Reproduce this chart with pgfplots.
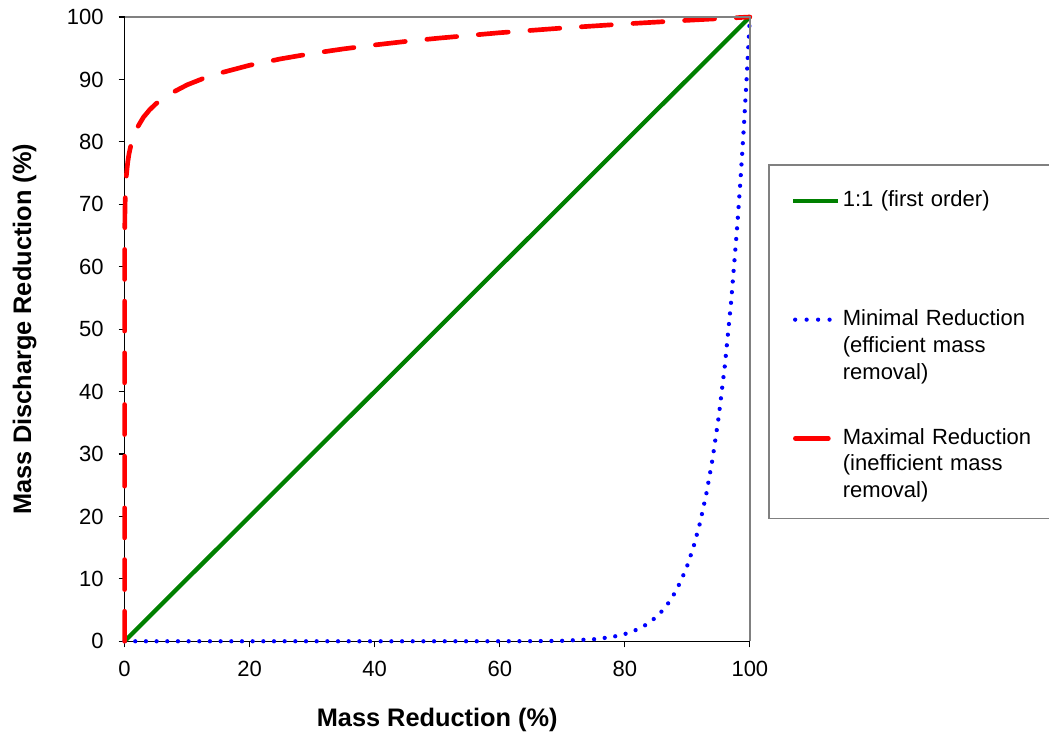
\documentclass[border=0pt]{standalone}
\usepackage{pgfplots}
\pgfplotsset{compat=1.18}
\usepackage{fontspec}
\setmainfont{Liberation Sans}
\definecolor{xlgreen}{RGB}{0,128,0}
\definecolor{framegray}{RGB}{128,128,128}

\pgfplotstableread{
x y
0 0
0.0001 50.12
0.001 56.23
0.01 63.10
0.05 68.39
0.1 70.79
0.2 73.29
0.3 74.79
0.5 76.73
0.7 78.03
1 79.43
1.5 81.06
2 82.23
3 83.92
4 85.13
5 86.09
7 87.55
10 89.13
12.5 90.12
15 90.95
20 92.27
25 93.30
30 94.16
35 94.89
40 95.52
45 96.09
50 96.59
60 97.48
70 98.23
80 98.89
90 99.47
100 100
}\maxred

\pgfplotstableread{
x y
0 0
10 0
20 0
30 0
40 0
50 0
60 0.004
65 0.018
70 0.080
75 0.317
78 0.695
80 1.153
82 1.889
83 2.408
84 3.059
85 3.876
86 4.897
87 6.172
88 7.756
89 9.724
90 12.158
91 15.164
92 18.869
93 23.424
94 29.011
95 35.849
96 44.200
97 54.379
98 66.761
98.5 73.91
99 81.791
99.5 90.46
100 100
}\minred

\pgfplotstableread{
x y
0 0
100 100
}\oneone

\begin{document}
\begin{tikzpicture}
\begin{axis}[
  set layers,
  scale only axis,
  width=468.75pt, height=468pt,
  xmin=0, xmax=100, ymin=0, ymax=100,
  xtick={0,20,40,60,80,100},
  ytick={0,10,20,30,40,50,60,70,80,90,100},
  axis lines=left,
  axis line style={-, black, line width=0.9pt},
  tick align=outside,
  major tick length=4.5pt,
  tick style={black, line width=0.9pt},
  /pgf/number format/assume math mode=true,
  tick label style={font=\fontsize{16.5}{19}\selectfont},
  yticklabel style={inner sep=0pt, anchor=east, xshift=-11pt},
  xticklabel style={inner sep=0pt, anchor=north, yshift=-10.5pt},
  every axis x label/.style={at={(rel axis cs:0.5,0)}, anchor=north, yshift=-50pt, inner sep=0pt},
  every axis y label/.style={at={(rel axis cs:0,0.5)}, rotate=90, anchor=base, yshift=70pt, inner sep=0pt},
  label style={font=\fontsize{19}{22}\selectfont\bfseries},
  xlabel={Mass Reduction (\%)},
  ylabel={Mass Discharge Reduction (\%)},
  clip=false,
  legend style={draw=none, fill=none, at={(rel axis cs:1.0656,0.7212)}, anchor=north west,
    inner sep=0pt, outer sep=0pt, row sep=75.5pt, column sep=2pt,
    font=\fontsize{16.5}{20}\selectfont,
    nodes={anchor=base west, inner sep=0pt}},
]
\addplot[xlgreen, line width=3.2pt, forget plot] table {\oneone};
\addplot[blue, line width=3.2pt, line cap=round, dash pattern=on 0pt off 8pt, forget plot] table {\minred};
\addplot[red, line width=3.5pt, line cap=round, dash pattern=on 22.5pt off 16.25pt, forget plot] table {\maxred};

\addlegendimage{legend image code/.code={\draw[xlgreen, line width=3.2pt] (0pt,4.5pt) -- (33.75pt,4.5pt);}}
\addlegendentry[text width=160pt, align=left]{1:1 (first order)}
\addlegendimage{legend image code/.code={\draw[blue, line width=3.2pt, line cap=round, dash pattern=on 0pt off 8.6pt] (1.6pt,4.5pt) -- (27.6pt,4.5pt);}}
\addlegendentry[text width=160pt, align=left]{Minimal Reduction\\(efficient mass\\removal)}
\addlegendimage{legend image code/.code={\draw[red, line width=3.5pt, line cap=round] (1.75pt,4.5pt) -- (26.5pt,4.5pt);}}
\addlegendentry[text width=160pt, align=left]{Maximal Reduction\\(inefficient mass\\removal)}

\draw[framegray, line width=1.2pt] (rel axis cs:0,1) -- (rel axis cs:1,1) -- (rel axis cs:1,0);
\draw[framegray, line width=1pt] (rel axis cs:1.496,0.7628) -- (rel axis cs:1.0304,0.7628) -- (rel axis cs:1.0304,0.1971) -- (rel axis cs:1.496,0.1971);
\coordinate (sw) at (rel axis cs:0,0);
\coordinate (ne) at (rel axis cs:1,1);
\end{axis}
\pgfresetboundingbox
\path[use as bounding box] ([shift={(-93.4pt,-69.75pt)}]sw) rectangle ([shift={(224.25pt,12.75pt)}]ne);
\end{tikzpicture}
\end{document}
